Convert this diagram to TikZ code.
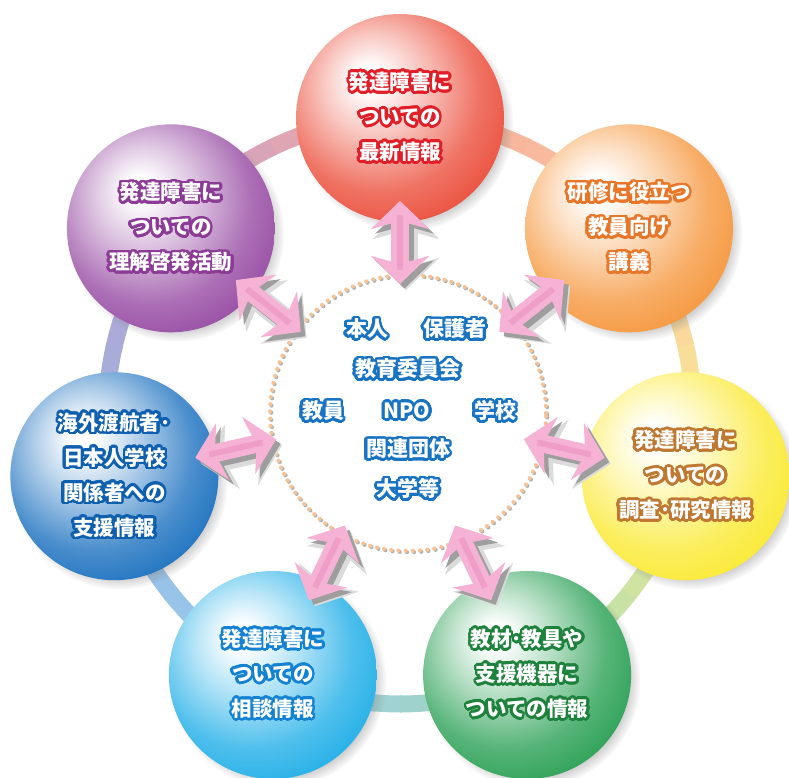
\documentclass[tikz,border=0pt]{standalone}
\usepackage{fontspec}
\setmainfont{Noto Sans CJK JP}
\usepackage{contour}
\contournumber{32}
\usetikzlibrary{arrows.meta,shadows,calc}

\definecolor{cred}{RGB}{234,68,48}
\definecolor{corange}{RGB}{245,145,50}
\definecolor{cyellow}{RGB}{250,232,40}
\definecolor{cgreen}{RGB}{30,155,75}
\definecolor{clblue}{RGB}{20,170,230}
\definecolor{cblue}{RGB}{15,105,188}
\definecolor{cpurple}{RGB}{145,65,158}

\definecolor{ored}{RGB}{225,30,40}
\definecolor{oorange}{RGB}{232,118,40}
\definecolor{oyellow}{RGB}{190,120,50}
\definecolor{ogreen}{RGB}{30,130,60}
\definecolor{olblue}{RGB}{20,130,210}
\definecolor{oblue}{RGB}{15,95,175}
\definecolor{opurple}{RGB}{140,60,150}

\definecolor{rc0}{RGB}{245,170,155}
\definecolor{rc1}{RGB}{195,160,208}
\definecolor{rc2}{RGB}{145,182,225}
\definecolor{rc3}{RGB}{160,208,240}
\definecolor{rc4}{RGB}{160,212,175}
\definecolor{rc5}{RGB}{248,240,150}
\definecolor{rc6}{RGB}{250,200,160}

\definecolor{cpink}{RGB}{245,178,212}
\definecolor{cpinkd}{RGB}{236,146,192}
\definecolor{cdot}{RGB}{245,195,150}
\definecolor{cglow}{RGB}{25,115,195}

\newcommand\mksph[1]{\pgfdeclareradialshading{sph#1}{\pgfpoint{-8bp}{10bp}}{%
  color(0bp)=(white); color(3bp)=(white); color(12bp)=(#1!30!white);
  color(24bp)=(#1!75!white); color(36bp)=(#1); color(64bp)=(#1!88!black)}}
\mksph{cred}\mksph{corange}\mksph{cyellow}\mksph{cgreen}\mksph{clblue}\mksph{cblue}\mksph{cpurple}

\newcommand\ol[2]{{\contourlength{2.6pt}\contour{#1}{#2}}}
\newcommand\glow[1]{{\contourlength{2.6pt}\contour{cglow}{#1}}}

\tikzset{
  sph/.style={circle, minimum size=208pt, inner sep=0pt, shading=sph#1,
    circular drop shadow={shadow xshift=5pt, shadow yshift=-5pt, opacity=0.5, shadow scale=1.04},
    align=center, text=white, font=\fontsize{20.5}{35}\selectfont\bfseries},
  ctext/.style={text=white, inner sep=0pt, font=\fontsize{21}{21}\selectfont\bfseries},
  pinkarrow/.style={line width=18pt, draw=cpink,
    {Stealth[length=28pt,width=58pt,inset=8pt]}-{Stealth[length=28pt,width=58pt,inset=8pt]}},
  arrshadowout/.style={line width=24pt, draw=black!14,
    {Stealth[length=32pt,width=66pt,inset=9pt]}-{Stealth[length=32pt,width=66pt,inset=9pt]},
    transform canvas={shift={(6pt,-6pt)}}},
  arrshadow/.style={pinkarrow, draw=black!38, transform canvas={shift={(4.5pt,-4.5pt)}}},
  arrhi/.style={line width=6pt, draw=cpinkd, opacity=0.6, shorten <=14pt, shorten >=14pt},
  dotline/.style={line width=4.2pt, draw=cdot, dash pattern=on 0pt off 7.2pt, line cap=round},
  dotshadow/.style={dotline, draw=black!30, transform canvas={shift={(1.3pt,-1.3pt)}}}
}

\begin{document}
\begin{tikzpicture}
\fill[white] (-400pt,-366pt) rectangle (389pt,411pt);
\useasboundingbox (-400pt,-366pt) rectangle (389pt,411pt);

% ring
\foreach \k in {0,...,6}{
  \pgfmathtruncatemacro\kk{mod(\k+1,7)}
  \foreach \j in {0,...,9}{
    \pgfmathtruncatemacro\p{95-10*\j}
    \pgfmathsetmacro\aa{90+51.4286*\k+5.14286*\j}
    \draw[line width=17pt, draw={rc\k!\p!rc\kk}] (\aa:293pt) arc[start angle=\aa, end angle=\aa+5.5, radius=293pt];
  }
}

% spheres
\node[sph=cred] (s0) at (90:293pt) {\ol{ored}{発達障害に}\\\ol{ored}{ついての}\\\ol{ored}{最新情報}};
\node[sph=cpurple] (s1) at (141.4286:293pt) {\ol{opurple}{発達障害に}\\\ol{opurple}{ついての}\\\ol{opurple}{理解啓発活動}};
\node[sph=cblue] (s2) at (192.8571:293pt) {\ol{oblue}{海外渡航者･}\\\ol{oblue}{日本人学校}\\\ol{oblue}{関係者への}\\\ol{oblue}{支援情報}};
\node[sph=clblue] (s3) at (244.2857:293pt) {\ol{olblue}{発達障害に}\\\ol{olblue}{ついての}\\\ol{olblue}{相談情報}};
\node[sph=cgreen] (s4) at (295.7143:293pt) {\ol{ogreen}{教材･教具や}\\\ol{ogreen}{支援機器に}\\\ol{ogreen}{ついての情報}};
\node[sph=cyellow] (s5) at (347.1429:293pt) {\ol{oyellow}{発達障害に}\\\ol{oyellow}{ついての}\\\ol{oyellow}{調査･研究情報}};
\node[sph=corange] (s6) at (38.5714:293pt) {\ol{oorange}{研修に役立つ}\\\ol{oorange}{教員向け}\\\ol{oorange}{講義}};

% dotted circle
\coordinate (dc) at (8pt,-2pt);
\draw[dotshadow] (dc) circle[radius=138pt];
\draw[dotline] (dc) circle[radius=138pt];

% arrows
\foreach \k in {0,...,6}{
  \pgfmathsetmacro\th{90+51.4286*\k}
  \coordinate (a\k) at (\th:127pt);
  \coordinate (b\k) at (\th:210pt);
}
\foreach \k in {0,...,6}{
  \draw[arrshadowout] (a\k) -- (b\k);
  \draw[arrshadow] (a\k) -- (b\k);
  \draw[pinkarrow] (a\k) -- (b\k);
  \draw[arrhi] (a\k) -- (b\k);
}

% center labels
\node[ctext] (t1) at (-33pt,81pt) {\glow{本人}};
\node[ctext] (t2) at (55pt,81pt) {\glow{保護者}};
\node[ctext] (t3) at (8pt,41pt) {\glow{教育委員会}};
\node[ctext] (t4) at (-77pt,-1pt) {\glow{教員}};
\node[ctext] (t5) at (7pt,-1pt) {\glow{NPO}};
\node[ctext] (t6) at (95pt,-1pt) {\glow{学校}};
\node[ctext] (t7) at (8pt,-39pt) {\glow{関連団体}};
\node[ctext] (t8) at (8pt,-79pt) {\glow{大学等}};
\end{tikzpicture}
\end{document}
